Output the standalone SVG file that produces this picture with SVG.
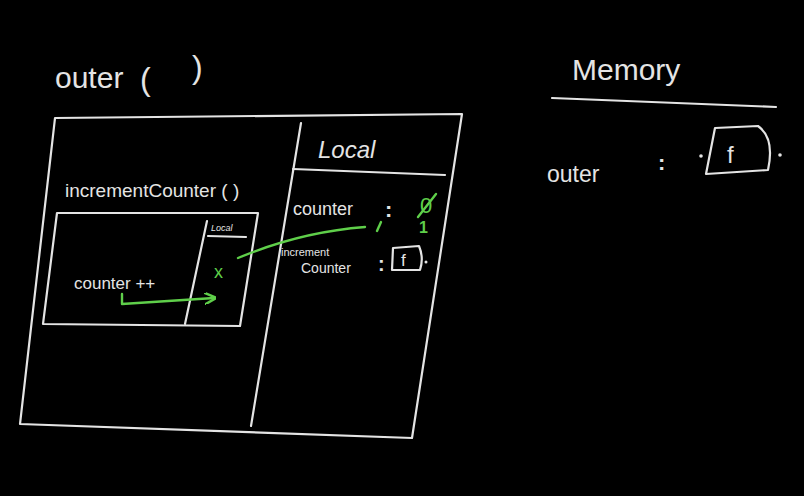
<svg xmlns="http://www.w3.org/2000/svg" width="804" height="496" viewBox="0 0 804 496">
<style>
.ln{fill:none;stroke:#e4e4e4;stroke-width:2.2;stroke-linecap:round;stroke-linejoin:round}
.gl{fill:none;stroke:#5fcf4a;stroke-width:2.4;stroke-linecap:round;stroke-linejoin:round}
.t{fill:#e4e4e4;font-family:"Liberation Sans",Arial,sans-serif}
.g{fill:#5fcf4a;font-family:"Liberation Sans",Arial,sans-serif}
</style>
<defs>
<marker id="ah" viewBox="0 0 10 10" refX="8" refY="5" markerWidth="5" markerHeight="5" orient="auto">
<path d="M0,0 L10,5 L0,10" fill="none" stroke="#5fcf4a" stroke-width="2"/>
</marker>
</defs>
<rect width="804" height="496" fill="#000"/>

<g id="outer-title">
<text class="t" x="55" y="88" font-size="30">outer</text>
<text class="t" x="140" y="90" font-size="32">(</text>
<text class="t" x="192" y="78" font-size="32">)</text>
</g>

<g id="outer-frame">
<path class="ln" d="M55,118 L462,114 L412,438 L20,424 Z"/>
<path class="ln" d="M301,123 L251,426"/>
</g>

<g id="outer-local">
<text class="t" x="318" y="158" font-size="24" font-style="italic">Local</text>
<path class="ln" d="M293,169 L445,175"/>
<text class="t" x="293" y="215" font-size="18">counter</text>
<text class="t" x="385" y="217" font-size="22" font-weight="bold">:</text>
<text class="g" x="420" y="213" font-size="22">0</text>
<path class="gl" d="M418,217 L436,194"/>
<text class="g" x="419" y="233" font-size="16" font-weight="bold">1</text>
<text class="t" x="281" y="256" font-size="11">increment</text>
<text class="t" x="301" y="273" font-size="14">Counter</text>
<text class="t" x="378" y="271" font-size="20" font-weight="bold">:</text>
<path class="ln" d="M393,248 L419,246 Q424,258 420,270 L392,270 Z"/>
<text class="t" x="401" y="266" font-size="17">f</text>
<circle cx="426" cy="262" r="1.5" fill="#e4e4e4"/>
</g>

<g id="increment-counter">
<text class="t" x="65" y="197" font-size="19">incrementCounter ( )</text>
<path class="ln" d="M57,213 L258,213 L240,326 L43,324 Z"/>
<path class="ln" d="M207,221 L185,324"/>
<text class="t" x="211" y="231" font-size="9" font-style="italic">Local</text>
<path class="ln" d="M208,236 L246,237"/>
<text class="t" x="74" y="289" font-size="17">counter ++</text>
<text class="g" x="214" y="278" font-size="18">x</text>
</g>

<g id="memory">
<text class="t" x="572" y="80" font-size="30">Memory</text>
<path class="ln" d="M552,98 L776,107"/>
<text class="t" x="547" y="182" font-size="23">outer</text>
<text class="t" x="658" y="170" font-size="22" font-weight="bold">:</text>
<path class="ln" d="M715,128 L758,126 Q775,138 768,170 L706,174 Z"/>
<text class="t" x="727" y="163" font-size="24">f</text>
<circle cx="701" cy="156" r="1.8" fill="#e4e4e4"/>
<circle cx="780" cy="155" r="1.8" fill="#e4e4e4"/>
</g>

<g id="connectors">
<path class="gl" d="M238,258 Q300,232 365,227"/>
<path class="gl" d="M381,222 L377,231"/>
<path class="gl" d="M122,294 L122,304 L214,298" marker-end="url(#ah)"/>
</g>
</svg>
